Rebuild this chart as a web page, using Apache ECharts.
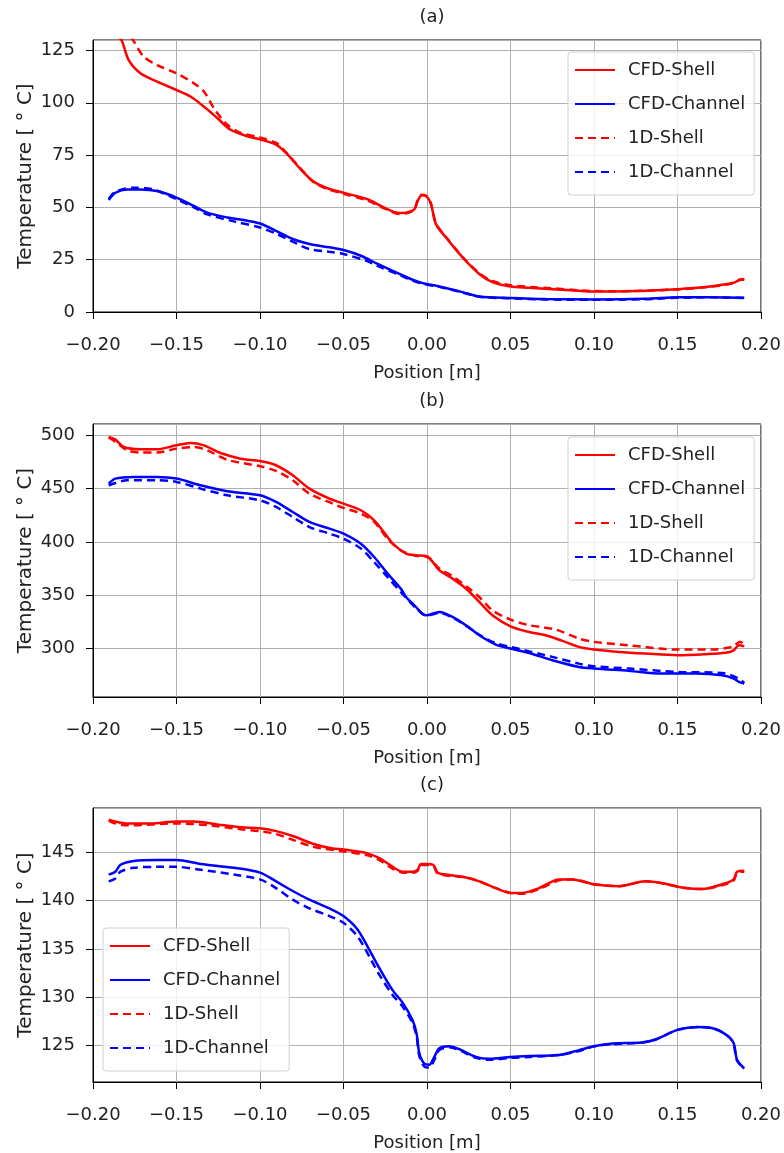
<!DOCTYPE html>
<html>
<head>
<meta charset="utf-8">
<script src="https://cdn.jsdelivr.net/npm/echarts@6/dist/echarts.min.js"></script>
<style>
  html, body { margin: 0; padding: 0; background: #fff; }
  #chart { width: 784px; height: 1153px; }
</style>
</head>
<body>
<div id="chart"></div>
<script>
// values, [position m, temperature C]
var aCfdShell = [[-0.19,143],[-0.1855,133],[-0.1826,129.4],[-0.1786,120.4],[-0.1716,114.1],[-0.1616,110.1],[-0.15,106.1],[-0.1416,103],[-0.1336,98.2],[-0.1256,92.7],[-0.1176,87.1],[-0.1076,84],[-0.1,82.5],[-0.0904,80],[-0.0844,76],[-0.0764,68.9],[-0.0684,62.6],[-0.0604,59.4],[-0.05,57],[-0.0356,53.9],[-0.0256,49.9],[-0.0165,47.3],[-0.0125,47.5],[-0.0076,49.1],[-0.0056,53.1],[-0.003,55.8],[0,55],[0.0024,51.5],[0.0054,42],[0.0114,35.6],[0.0213,26.1],[0.0313,18.2],[0.0392,14.3],[0.05,12.2],[0.0612,11.6],[0.0751,10.9],[0.091,10.1],[0.1,9.8],[0.111,9.8],[0.127,10],[0.15,10.9],[0.1667,11.9],[0.1807,13.5],[0.1847,14.3],[0.1876,15.4],[0.19,15.4]];
var aCfdChannel = [[-0.1906,53.5],[-0.1866,57],[-0.1796,58.6],[-0.1716,58.6],[-0.1616,57.8],[-0.15,54.7],[-0.1396,50.7],[-0.1316,47.5],[-0.1196,45.2],[-0.1076,43.6],[-0.1,42.3],[-0.0904,38.8],[-0.0804,34.9],[-0.0704,32.5],[-0.0584,30.9],[-0.05,29.6],[-0.0396,26.9],[-0.0296,23],[-0.0165,18.2],[-0.0086,15.4],[-0.0026,13.8],[0.0074,12.2],[0.0213,9.5],[0.0313,7.4],[0.05,6.7],[0.0711,6.2],[0.1,6],[0.1309,6.3],[0.15,7],[0.1707,7.1],[0.19,6.8]];
var a1dShell = [[-0.19,147],[-0.182,137],[-0.1756,129.4],[-0.1696,122],[-0.1616,118],[-0.15,114.1],[-0.1396,109.3],[-0.1336,105.4],[-0.1276,97.4],[-0.1196,89.5],[-0.1116,85.6],[-0.1,83.4],[-0.0904,80.8],[-0.0844,76.3],[-0.0764,69.2],[-0.0684,62.4],[-0.0604,59],[-0.05,56.5],[-0.0356,53.2],[-0.0256,49.5],[-0.0165,46.8],[-0.0125,47.2],[-0.0076,48.8],[-0.0056,53.3],[-0.003,56],[0,55.3],[0.0024,51.8],[0.0054,42.3],[0.0114,35.8],[0.0213,26.3],[0.0313,18.5],[0.0392,14.8],[0.05,12.8],[0.0612,12],[0.0751,11.3],[0.091,10.4],[0.1,10],[0.111,9.9],[0.127,10.1],[0.15,10.8],[0.1667,11.8],[0.1807,13.3],[0.1847,14.2],[0.1876,15.6],[0.19,15.8]];
var a1dChannel = [[-0.1906,54],[-0.1866,57.5],[-0.1756,59.4],[-0.165,58.8],[-0.15,53.9],[-0.1396,50],[-0.1316,46.7],[-0.1156,43.3],[-0.1,40.4],[-0.0904,37.5],[-0.0804,33.6],[-0.0704,30.1],[-0.0584,28.8],[-0.05,27.7],[-0.0366,24.6],[-0.0296,22],[-0.0156,17.4],[-0.0086,15],[-0.0026,13.5],[0.0074,12],[0.0213,9.3],[0.0313,7.3],[0.05,6.5],[0.0711,6],[0.1,5.8],[0.1309,6.1],[0.15,6.8],[0.1707,7],[0.19,6.7]];

var bCfdShell = [[-0.1906,498.4],[-0.1866,496],[-0.1816,489],[-0.1716,486.9],[-0.1616,486.9],[-0.15,490.6],[-0.1416,492.8],[-0.1336,490.6],[-0.1236,483.4],[-0.1116,478.1],[-0.1,475.9],[-0.0904,471.9],[-0.0804,462.5],[-0.0704,450],[-0.0584,440.6],[-0.05,435.9],[-0.0396,429.7],[-0.0316,420.3],[-0.0236,404.7],[-0.0205,398.4],[-0.0125,389],[-0.0066,387.5],[0,386.6],[0.0034,381.3],[0.0074,373.4],[0.0153,365.6],[0.0233,356.3],[0.0313,343.8],[0.0392,331.3],[0.05,320.9],[0.0612,315.6],[0.0711,312.5],[0.0811,307.2],[0.091,301.6],[0.1,299.1],[0.1149,296.9],[0.1309,295.3],[0.15,293.8],[0.1667,294.7],[0.1787,296],[0.1837,298.4],[0.1867,303.1],[0.19,302.2]];
var bCfdChannel = [[-0.1906,454.7],[-0.1866,459.4],[-0.1756,460.9],[-0.1616,460.9],[-0.15,459.4],[-0.1356,453.1],[-0.1196,447.5],[-0.1,443.8],[-0.0904,437.5],[-0.0804,428.1],[-0.0704,418.8],[-0.0584,412.5],[-0.05,407.8],[-0.0396,398.4],[-0.0316,385.9],[-0.0236,370.3],[-0.0156,356],[-0.0125,348.4],[-0.0066,339],[-0.0026,332.2],[0,331.3],[0.0074,334.4],[0.0153,329.7],[0.0233,321.9],[0.0313,312.5],[0.0412,303.8],[0.05,300],[0.0612,295.9],[0.0751,289.1],[0.091,282.8],[0.1,281.3],[0.1209,279.1],[0.1408,276.6],[0.1608,276.6],[0.1767,275],[0.1837,271.9],[0.1867,268.8],[0.19,267.2]];
var b1dShell = [[-0.1906,498],[-0.1866,494],[-0.1796,486],[-0.1716,483.8],[-0.1616,483.8],[-0.15,487.5],[-0.1396,489],[-0.1316,486],[-0.1196,477],[-0.1,471],[-0.0904,466.6],[-0.0804,457.8],[-0.0704,445.3],[-0.0564,435.9],[-0.05,431.9],[-0.0396,426.6],[-0.0316,418.8],[-0.0236,403],[-0.0156,392],[-0.0066,387],[0,386],[0.0074,375],[0.0153,367.8],[0.0253,356.3],[0.0313,348.4],[0.0392,335.9],[0.05,327.2],[0.0612,321.9],[0.0771,317.8],[0.091,309.4],[0.1,306.3],[0.1209,303.1],[0.15,299.1],[0.1707,299.1],[0.1827,301.6],[0.1876,306.3],[0.19,303.1]];
var b1dChannel = [[-0.1906,453],[-0.1796,457.8],[-0.1616,457.8],[-0.15,456.3],[-0.1356,450],[-0.1196,443.8],[-0.1,439],[-0.0904,432.8],[-0.0804,423.4],[-0.0704,414],[-0.0584,407.8],[-0.05,403],[-0.0396,393.8],[-0.0316,381],[-0.0236,367],[-0.0156,353],[-0.0066,338],[0,331],[0.0074,333.5],[0.0153,329],[0.0233,321.5],[0.0313,313],[0.0412,305],[0.05,301.6],[0.0751,292.2],[0.091,285.9],[0.1,283.4],[0.1209,281.3],[0.15,278.1],[0.1767,277.2],[0.1867,271.9],[0.19,267.8]];

var cCfdShell = [[-0.1906,148.4],[-0.1866,148.2],[-0.1796,148],[-0.1656,148],[-0.15,148.2],[-0.1396,148.2],[-0.1256,147.9],[-0.1116,147.6],[-0.1,147.5],[-0.0904,147.2],[-0.0804,146.7],[-0.0684,145.9],[-0.0564,145.4],[-0.05,145.3],[-0.0356,144.9],[-0.0285,144.4],[-0.0205,143.5],[-0.0145,143],[-0.0086,143],[-0.0056,143.2],[-0.0036,143.8],[0,143.8],[0.0038,143.7],[0.0064,142.9],[0.0114,142.7],[0.0233,142.4],[0.0313,142],[0.0412,141.3],[0.05,140.8],[0.0572,140.8],[0.0671,141.3],[0.0791,142.2],[0.087,142.2],[0.1,141.7],[0.1149,141.5],[0.1309,142],[0.1408,141.8],[0.1548,141.3],[0.1647,141.2],[0.1787,141.8],[0.1837,142.2],[0.1857,143],[0.19,143.1]];
var cCfdChannel = [[-0.1906,142.7],[-0.1866,143],[-0.1836,143.7],[-0.1756,144.1],[-0.1616,144.2],[-0.15,144.2],[-0.1356,143.8],[-0.1156,143.4],[-0.1,142.9],[-0.0904,142],[-0.0804,141],[-0.0704,140.1],[-0.0584,139.2],[-0.05,138.4],[-0.0416,137],[-0.0336,134.6],[-0.0285,133],[-0.0205,130.7],[-0.0145,129.4],[-0.0086,127.6],[-0.0062,126.2],[-0.0046,124.2],[-0.0016,123.1],[0.0014,123],[0.0044,123.8],[0.0074,124.7],[0.0133,124.9],[0.0193,124.6],[0.0293,123.8],[0.0373,123.6],[0.05,123.8],[0.0612,123.9],[0.0791,124],[0.091,124.5],[0.1,124.9],[0.111,125.2],[0.1289,125.3],[0.1369,125.6],[0.15,126.6],[0.1625,126.9],[0.1725,126.7],[0.1807,125.9],[0.1837,125.2],[0.1857,123.5],[0.19,122.6]];
var c1dShell = [[-0.1906,148.3],[-0.1866,148],[-0.1796,147.8],[-0.15,148],[-0.13,147.8],[-0.1116,147.4],[-0.1,147.2],[-0.0904,146.9],[-0.0804,146.3],[-0.0684,145.6],[-0.05,145.1],[-0.0356,144.7],[-0.0285,144.2],[-0.0205,143.3],[-0.0145,142.9],[-0.0086,142.9],[-0.0056,143.1],[-0.0036,143.7],[0,143.7],[0.0038,143.6],[0.0064,142.8],[0.0114,142.6],[0.0233,142.4],[0.0313,142],[0.0412,141.3],[0.05,140.8],[0.0572,140.7],[0.0671,141.2],[0.0791,142.1],[0.087,142.2],[0.1,141.7],[0.1149,141.5],[0.1309,142],[0.1408,141.8],[0.1548,141.3],[0.1647,141.2],[0.1787,141.7],[0.1837,142.1],[0.1857,142.9],[0.19,143]];
var c1dChannel = [[-0.1906,142],[-0.1866,142.3],[-0.1836,143],[-0.1756,143.4],[-0.1616,143.5],[-0.15,143.5],[-0.1356,143.2],[-0.1156,142.7],[-0.1,142.2],[-0.0904,141.3],[-0.0804,140.1],[-0.0704,139.2],[-0.0584,138.4],[-0.05,137.7],[-0.0416,136.3],[-0.0336,133.9],[-0.0285,132.3],[-0.0205,130.2],[-0.0145,129],[-0.0086,127.3],[-0.0062,125.9],[-0.0046,123.9],[-0.0016,122.8],[0.0014,122.7],[0.0044,123.5],[0.0074,124.5],[0.0133,124.8],[0.0193,124.5],[0.0293,123.7],[0.0373,123.5],[0.05,123.7],[0.0612,123.8],[0.0791,124],[0.091,124.4],[0.1,124.9],[0.111,125.1],[0.1289,125.3],[0.1369,125.6],[0.15,126.6],[0.1625,126.9],[0.1725,126.7],[0.1807,125.9],[0.1837,125.1],[0.1857,123.4],[0.19,122.6]];

var seriesNames = ["CFD-Shell", "CFD-Channel", "1D-Shell", "1D-Channel"];
var panelTitles = ["(a)", "(b)", "(c)"];
var xTicks = [-0.2, 0.2, 0.05];
var yRanges = [[0, 130, 25], [254.6, 510.6, 50], [121.2, 149.6, 5]];

var panels = [
  [aCfdShell, aCfdChannel, a1dShell, a1dChannel],
  [bCfdShell, bCfdChannel, b1dShell, b1dChannel],
  [cCfdShell, cCfdChannel, c1dShell, c1dChannel]
];

var FONT = "DejaVu Sans";
var colors = ["#ff0000", "#0000ff", "#ff0000", "#0000ff"];
var dashed = [false, false, true, true];
var gridTops = [40, 424, 808];
var gridHeights = [272, 273, 274];
var legendPos = [{left: 568, top: 52}, {left: 568, top: 437}, {left: 103, top: 928}];

var chart = echarts.init(document.getElementById("chart"));

var grids = [], xAxes = [], yAxes = [], series = [], titles = [], legends = [];
panels.forEach(function (p, i) {
  grids.push({
    left: 93, right: 22, top: gridTops[i], height: gridHeights[i],
    show: true, borderColor: "#000", borderWidth: 1, backgroundColor: "#fff"
  });
  xAxes.push({
    type: "value", gridIndex: i, min: xTicks[0], max: xTicks[1], interval: xTicks[2],
    name: "Position [m]", nameLocation: "middle", nameGap: 52,
    nameTextStyle: {fontFamily: FONT, fontSize: 18, color: "#222"},
    axisLine: {show: true, onZero: false, lineStyle: {color: "#000", width: 1}},
    axisTick: {show: true, length: 7, lineStyle: {color: "#000"}},
    axisLabel: {
      fontFamily: FONT, fontSize: 18, color: "#222", margin: 24,
      formatter: function (v) { return v.toFixed(2).replace("-", "\u2212"); }
    },
    splitLine: {show: true, lineStyle: {color: "#b0b0b0", width: 1}}
  });
  var yr = yRanges[i];
  yAxes.push({
    type: "value", gridIndex: i, min: yr[0], max: yr[1],
    minInterval: yr[2], maxInterval: yr[2],
    name: "Temperature [ \u00b0 C]", nameLocation: "middle", nameGap: 57,
    nameMoveOverlap: false,
    nameTextStyle: {fontFamily: FONT, fontSize: 20, color: "#222"},
    axisLine: {show: true, onZero: false, lineStyle: {color: "#000", width: 1}},
    axisTick: {show: true, length: 7, lineStyle: {color: "#000"}},
    axisLabel: {
      fontFamily: FONT, fontSize: 18, color: "#222", margin: 18,
      showMinLabel: i === 0, showMaxLabel: false
    },
    splitLine: {show: true, lineStyle: {color: "#b0b0b0", width: 1}}
  });
  titles.push({
    text: panelTitles[i], left: 427, top: gridTops[i] - 37, textAlign: "center",
    textStyle: {fontFamily: FONT, fontSize: 18, fontWeight: "normal", color: "#222"}
  });
  legends.push({
    data: seriesNames, orient: "vertical", left: legendPos[i].left, top: legendPos[i].top,
    itemWidth: 40, itemHeight: 4, itemGap: 16, padding: [9, 9, 14, 6],
    itemStyle: {opacity: 0},
    backgroundColor: "rgba(255,255,255,0.8)", borderColor: "#d0d0d0", borderWidth: 1, borderRadius: 3,
    selectedMode: false,
    textStyle: {fontFamily: FONT, fontSize: 18, color: "#222", padding: [0, 0, 0, 8]}
  });
  p.forEach(function (d, k) {
    series.push({
      name: seriesNames[k], type: "line", xAxisIndex: i, yAxisIndex: i,
      data: d, showSymbol: false, symbol: "none", smooth: 0.3, clip: true,
      lineStyle: {color: colors[k], width: 2.5, type: dashed[k] ? [8, 5] : "solid"},
      itemStyle: {color: colors[k]},
      z: 2 + k
    });
  });
});

chart.setOption({
  backgroundColor: "#fff",
  animation: false,
  title: titles,
  legend: legends,
  grid: grids,
  xAxis: xAxes,
  yAxis: yAxes,
  series: series
});
</script>
</body>
</html>
